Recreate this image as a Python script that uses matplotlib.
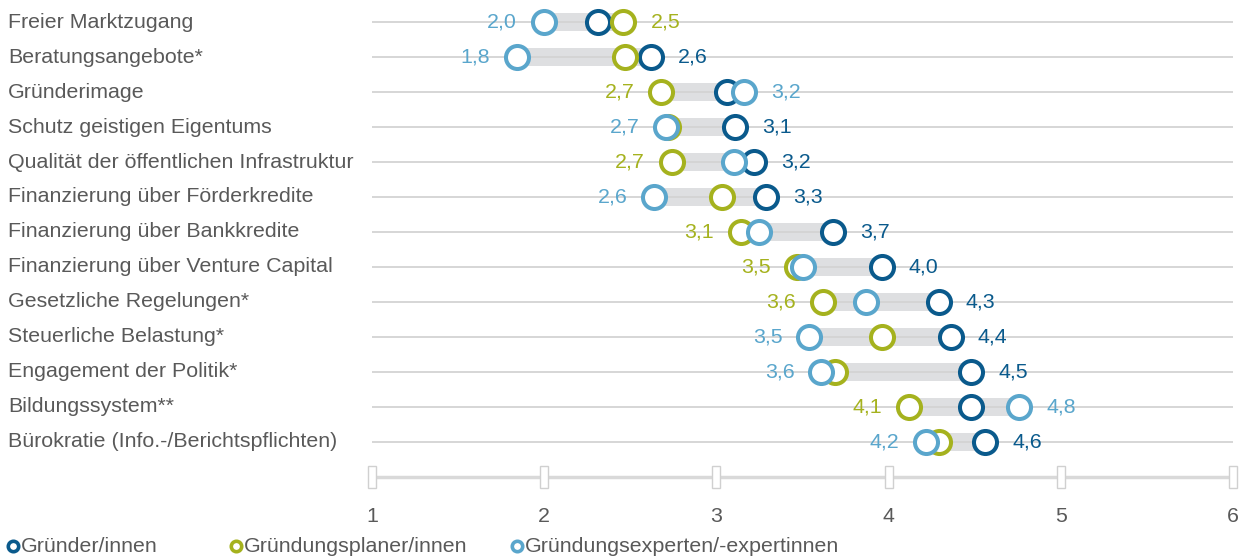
import matplotlib.pyplot as plt

plt.rcParams["font.family"] = ["Liberation Sans", "DejaVu Sans"]

categories = [
    "Freier Marktzugang",
    "Beratungsangebote*",
    "Gründerimage",
    "Schutz geistigen Eigentums",
    "Qualität der öffentlichen Infrastruktur",
    "Finanzierung über Förderkredite",
    "Finanzierung über Bankkredite",
    "Finanzierung über Venture Capital",
    "Gesetzliche Regelungen*",
    "Steuerliche Belastung*",
    "Engagement der Politik*",
    "Bildungssystem**",
    "Bürokratie (Info.-/Berichtspflichten)",
]
gruender = [2.31, 2.62, 3.06, 3.11, 3.22, 3.29, 3.68, 3.96, 4.29, 4.36, 4.48, 4.48, 4.56]
planer = [2.46, 2.47, 2.68, 2.72, 2.74, 3.03, 3.14, 3.47, 3.62, 3.96, 3.69, 4.12, 4.29]
experten = [2.00, 1.84, 3.16, 2.71, 3.10, 2.64, 3.25, 3.50, 3.87, 3.54, 3.61, 4.76, 4.22]
series_names = ["Gründer/innen", "Gründungsplaner/innen", "Gründungsexperten/-expertinnen"]
series_colors = ["#0a5a8c", "#a5b21e", "#5aa6cc"]
x_ticks = [1, 2, 3, 4, 5, 6]

text_col = "#595959"
fs = 15.4

fig = plt.figure(figsize=(12.41, 5.57), dpi=100)
ax = fig.add_axes([372 / 1241, 57 / 557, (1233 - 372) / 1241, 500 / 557])
ax.set_xlim(1, 6)
ax.set_ylim(13.66, -0.63)
ax.axis("off")

series = [gruender, planer, experten]
for i, cat in enumerate(categories):
    vals = [s[i] for s in series]
    lo, hi = min(vals), max(vals)
    ax.axhline(i, color="#d3d3d3", lw=1.3, zorder=2)
    ax.barh(i, hi - lo, left=lo, height=0.5, color="#dedfe1", zorder=1)
    ax.annotate(cat, xy=(0, i), xycoords=("figure fraction", "data"),
                xytext=(8, 0), textcoords="offset pixels",
                ha="left", va="center", fontsize=fs, color=text_col)
    c_lo = series_colors[vals.index(lo)]
    c_hi = series_colors[vals.index(hi)]
    ax.annotate(f"{lo:.1f}".replace(".", ","), xy=(lo, i), xytext=(-27, 0),
                textcoords="offset pixels", ha="right", va="center",
                fontsize=fs, color=c_lo)
    ax.annotate(f"{hi:.1f}".replace(".", ","), xy=(hi, i), xytext=(27, 0),
                textcoords="offset pixels", ha="left", va="center",
                fontsize=fs, color=c_hi)

ypos = list(range(len(categories)))
for s, col in zip(series, series_colors):
    ax.scatter(s, ypos, s=275, facecolor="white", edgecolor=col, linewidth=2.9, zorder=3)

# bottom axis with small box ticks
ax.plot([1, 6], [13, 13], color="#d9d9d9", lw=2.5, zorder=1, clip_on=False)
for t in x_ticks:
    ax.add_patch(plt.Rectangle((t - 0.023, 12.68), 0.046, 0.64, fc="white", ec="#d0d0d0",
                               lw=1, zorder=2, clip_on=False))
    ax.text(t, 14.14, str(t), ha="center", va="center", fontsize=fs, color=text_col,
            clip_on=False)

# legend
leg_x = [13, 236, 517]
for name, col, lx in zip(series_names, series_colors, leg_x):
    fig.add_artist(plt.Line2D([lx / 1241], [1 - 546 / 557], marker="o", ms=7.5,
                              mfc="white", mec=col, mew=2.6, ls="none"))
    fig.text((lx + 8) / 1241, 1 - 546 / 557, name, ha="left", va="center",
             fontsize=fs, color=text_col)

fig.savefig("out.png", dpi=100)
